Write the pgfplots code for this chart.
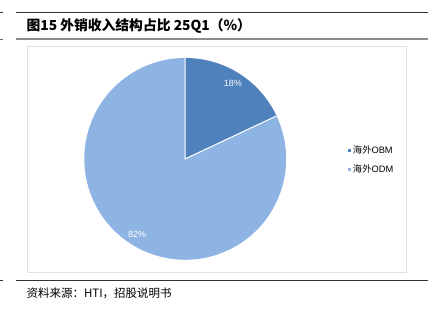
\documentclass[border=0pt]{standalone}
\usepackage{pgfplots}
\pgfplotsset{compat=1.18}
\usepackage{pgfplotstable}
\usepackage{fontspec}
\setmainfont{Liberation Sans}
\newfontfamily\cjk{Noto Sans CJK SC}
\definecolor{obm}{HTML}{4F81BD}
\definecolor{odm}{HTML}{8EB4E3}
\pgfplotstableread{
label value
OBM 18
ODM 82
}\piedata
\begin{document}
\begin{tikzpicture}[x=1pt,y=1pt]
\path (0,0) rectangle (442,314);
% frame lines
\draw[line width=0.8pt,black!80] (16,302) -- (428,302);
\draw[line width=0.8pt,black!80] (0,302) -- (3,302);
\draw[line width=1.4pt,black!45] (16,275) -- (428,275);
\draw[line width=0.8pt,black!60] (0,275) -- (3,275);
\draw[line width=0.8pt,black!80] (16,33) -- (428,33);
\draw[line width=0.8pt,black!80] (0,33) -- (3,33);
\draw[line width=0.6pt,black!12] (27,268) rectangle (406,41);
\node[anchor=west,inner sep=0pt] at (26,288) {\cjk\bfseries\fontsize{13.8}{15}\selectfont 图15 外销收入结构占比 25Q1（\%）};
\node[anchor=west,inner sep=0pt] at (26,20) {\cjk\fontsize{11.5}{13}\selectfont 资料来源：HTI，招股说明书};
\pgfplotstablegetelem{0}{value}\of\piedata \let\vA\pgfplotsretval
\pgfplotstablegetelem{1}{value}\of\piedata \let\vB\pgfplotsretval
\pgfmathsetmacro{\aA}{90-3.6*\vA}
\pgfmathsetmacro{\aB}{\aA-3.6*\vB}
\pgfmathsetmacro{\mA}{(90+\aA)/2}
\pgfmathsetmacro{\mB}{(\aA+\aB)/2}
\begin{axis}[
  at={(185pt,155pt)}, anchor=origin,
  x=1pt, y=1pt, xmin=-101, xmax=101, ymin=-101, ymax=101,
  hide axis, clip=false,
  legend style={at={(axis cs:163,-1)},anchor=west,draw=none,fill=none,
    font=\fontsize{9.3}{11}\selectfont, row sep=7pt, inner sep=0pt,
    nodes={inner sep=1.5pt},
    legend cell align=left},
  legend image code/.code={\fill[#1] (0pt,-1.6pt) rectangle (3.2pt,1.6pt);},
]
\addlegendimage{fill=obm,draw=none}
\addlegendentry{{\cjk 海外}OBM}
\addlegendimage{fill=odm,draw=none}
\addlegendentry{{\cjk 海外}ODM}
\fill[obm] (axis cs:0,0) -- (axis cs:0,101) arc[start angle=90,end angle=\aA,radius=101pt] -- cycle;
\fill[odm] (axis cs:0,0) -- ({101*cos(\aA)},{101*sin(\aA)}) arc[start angle=\aA,end angle=\aB,radius=101pt] -- cycle;
\draw[white,line width=1pt] (axis cs:0,101) -- (axis cs:0,0) -- ({101*cos(\aA)},{101*sin(\aA)});
\node[white,font=\fontsize{9}{10}\selectfont] at ({89*cos(\mA)},{89*sin(\mA)}) {\vA\%};
\node[white,font=\fontsize{9}{10}\selectfont] at ({90*cos(\mB)},{90*sin(\mB)}) {\vB\%};
\end{axis}
\end{tikzpicture}
\end{document}
